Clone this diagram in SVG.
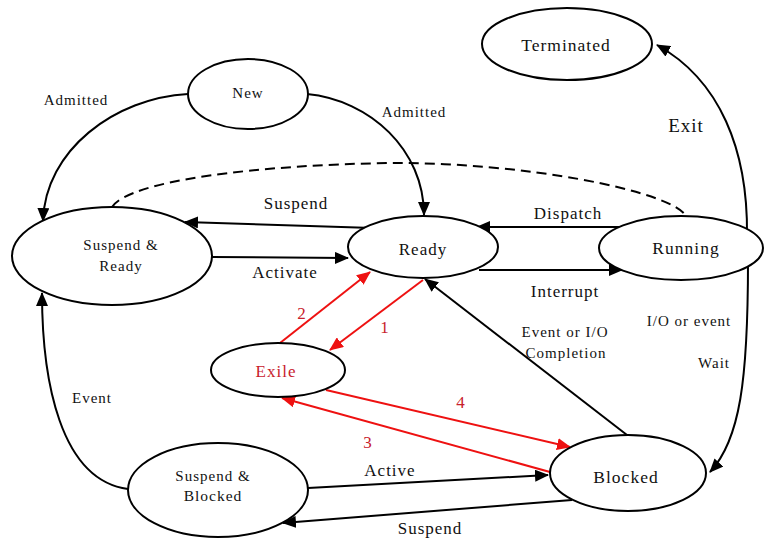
<svg xmlns="http://www.w3.org/2000/svg" width="765" height="539" viewBox="0 0 765 539" font-family="'Liberation Serif', 'DejaVu Serif', serif">
<style>
  .node ellipse { fill: #ffffff; stroke: #000000; stroke-width: 2; }
  text { font-family: 'Liberation Serif', 'DejaVu Serif', serif; text-anchor: middle; fill: #111111; letter-spacing: 1px; }
  .nl { font-size: 17px; }
  .ns { font-size: 15px; }
  .el { font-size: 17px; }
  .es { font-size: 15px; }
  .red { fill: #c8202c; }
  .edge { fill: none; stroke: #000000; stroke-width: 2; }
  .redge { fill: none; stroke: #ee1111; stroke-width: 2; }
  .dash { fill: none; stroke: #000000; stroke-width: 2; stroke-dasharray: 10,6; }
</style>
<defs>
  <marker id="ab" markerUnits="userSpaceOnUse" markerWidth="14" markerHeight="12" refX="13" refY="6" orient="auto">
    <path d="M0,0 L14,6 L0,12 z" fill="#000000"/>
  </marker>
  <marker id="ar" markerUnits="userSpaceOnUse" markerWidth="14" markerHeight="12" refX="13" refY="6" orient="auto">
    <path d="M0,0 L14,6 L0,12 z" fill="#ee1111"/>
  </marker>
</defs>
<rect width="765" height="539" fill="#ffffff"/>

<g id="connectors">
  <path class="edge" d="M188,94 C115,98 45,150 43,221" marker-end="url(#ab)"/>
  <path class="edge" d="M307,94 C370,100 424,150 424,215" marker-end="url(#ab)"/>
  <path class="dash" d="M112,207 C130,180 260,165 390,163 C520,162 670,190 686,216"/>
  <path class="edge" d="M373,228 L185,222" marker-end="url(#ab)"/>
  <path class="edge" d="M212,257 L348,258" marker-end="url(#ab)"/>
  <path class="edge" d="M623,227 L477,227" marker-end="url(#ab)"/>
  <path class="edge" d="M479,270 L622,270" marker-end="url(#ab)"/>
  <path class="edge" d="M747,235 C748,150 720,80 657,45" marker-end="url(#ab)"/>
  <path class="edge" d="M748,262 C748,380 740,440 710,472" marker-end="url(#ab)"/>
  <path class="edge" d="M627,435 L425,279" marker-end="url(#ab)"/>
  <path class="edge" d="M308,488 L548,475" marker-end="url(#ab)"/>
  <path class="edge" d="M572,500 L283,523" marker-end="url(#ab)"/>
  <path class="edge" d="M128,489 C60,480 42,380 42,293" marker-end="url(#ab)"/>
  <path class="redge" d="M423,280 L330,350" marker-end="url(#ar)"/>
  <path class="redge" d="M280,343 L370,272" marker-end="url(#ar)"/>
  <path class="redge" d="M550,472 L282,398" marker-end="url(#ar)"/>
  <path class="redge" d="M326,390 L570,447" marker-end="url(#ar)"/>
</g>

<g id="terminated" class="node">
  <ellipse cx="567" cy="44" rx="85" ry="36"/>
  <text class="nl" x="566" y="51" style="font-size:17.5px">Terminated</text>
</g>
<g id="new" class="node">
  <ellipse cx="248" cy="94" rx="60" ry="35"/>
  <text class="ns" x="248" y="98">New</text>
</g>
<g id="suspend-ready" class="node">
  <ellipse cx="112" cy="256" rx="100" ry="49"/>
  <text class="ns" x="121" y="250">Suspend &amp;</text>
  <text class="ns" x="121" y="271">Ready</text>
</g>
<g id="ready" class="node">
  <ellipse cx="423" cy="247" rx="75" ry="31"/>
  <text class="nl" x="423" y="255">Ready</text>
</g>
<g id="running" class="node">
  <ellipse cx="681" cy="248" rx="82" ry="32"/>
  <text class="nl" x="686" y="254" style="font-size:17.5px">Running</text>
</g>
<g id="exile" class="node">
  <ellipse cx="278" cy="370" rx="67" ry="27"/>
  <text class="nl red" x="276" y="377">Exile</text>
</g>
<g id="suspend-blocked" class="node">
  <ellipse cx="218" cy="490" rx="90" ry="47"/>
  <text class="ns" x="213" y="481">Suspend &amp;</text>
  <text class="ns" x="213" y="501" style="font-size:15.5px">Blocked</text>
</g>
<g id="blocked" class="node">
  <ellipse cx="628" cy="473" rx="78" ry="38"/>
  <text class="nl" x="626" y="483" style="font-size:17.5px">Blocked</text>
</g>

<g id="labels">
  <text class="es" x="76" y="105">Admitted</text>
  <text class="es" x="414" y="117">Admitted</text>
  <text class="el" x="686" y="132" style="font-size:19px">Exit</text>
  <text class="el" x="296" y="209">Suspend</text>
  <text class="el" x="568" y="219">Dispatch</text>
  <text class="el" x="285" y="278">Activate</text>
  <text class="el" x="565" y="297">Interrupt</text>
  <text class="es" x="689" y="326">I/O or event</text>
  <text class="es" x="714" y="368">Wait</text>
  <text class="es" x="565" y="337">Event or I/O</text>
  <text class="es" x="566" y="358">Completion</text>
  <text class="es" x="92" y="403">Event</text>
  <text class="el" x="390" y="476">Active</text>
  <text class="el" x="430" y="534">Suspend</text>
  <text class="el red" x="385" y="333">1</text>
  <text class="el red" x="302" y="319">2</text>
  <text class="el red" x="368" y="448">3</text>
  <text class="el red" x="461" y="408">4</text>
</g>
</svg>
